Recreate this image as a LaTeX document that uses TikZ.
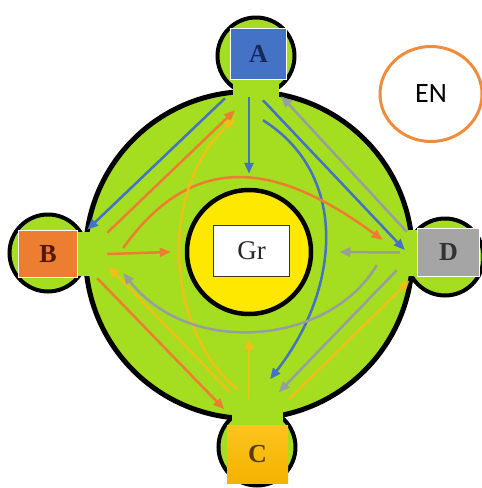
\documentclass[tikz,border=0pt]{standalone}
\usepackage{fontspec}
\setmainfont{Liberation Serif}
\newfontfamily\calib{Carlito}
\usetikzlibrary{arrows.meta, shapes.geometric}

\definecolor{lime1}{RGB}{165,222,32}
\definecolor{sun}{RGB}{255,232,0}
\definecolor{colA}{RGB}{68,114,196}
\definecolor{colB}{RGB}{237,125,49}
\definecolor{colC}{RGB}{250,188,20}
\definecolor{colD}{RGB}{165,165,165}
\definecolor{lineD}{RGB}{150,158,160}
\definecolor{enring}{RGB}{240,140,60}

\begin{document}
\begin{tikzpicture}[x=1pt, y=-1pt,
  port/.style={
    circle, draw=black, line width=4pt,
    fill=lime1, minimum size=77pt, inner sep=0pt
  },
  ring/.style={
    circle, draw=black, line width=5pt,
    fill=lime1, minimum size=327pt, inner sep=0pt
  },
  core/.style={
    circle, draw=black, line width=4.5pt,
    fill=sun, minimum size=124pt, inner sep=0pt
  },
  box/.style={
    draw=white, line width=1.5pt, inner sep=0pt,
    font=\fontsize{26}{26}\selectfont\bfseries
  },
  arr/.style={-{Triangle[length=11pt, width=9pt]}, line width=2.5pt},
  arrA/.style={arr, draw=colA},
  arrB/.style={arr, draw=colB},
  arrC/.style={arr, draw=colC, opacity=0.85},
  arrD/.style={arr, draw=lineD}
]
  \useasboundingbox (0,0) rectangle (482,488);

  % outer ports behind the boxes
  \node[port] (pA) at (256,56) {};
  \node[port] (pB) at (48,253) {};
  \node[port] (pD) at (445,257) {};
  \node[port] (pC) at (257,447) {};

  \node[ring] (ring) at (249,255) {};

  % necks
  \fill[lime1] (233,76) rectangle (279,100);
  \fill[lime1] (76,232) rectangle (100,276);
  \fill[lime1] (398,230) rectangle (420,276);
  \fill[lime1] (232,408) rectangle (283,428);

  \node[box, fill=colA, text={rgb,255:red,25;green,40;blue,90},
    minimum width=56pt, minimum height=51pt] (A) at (258.5,54) {A};
  \node[box, fill=colB, text={rgb,255:red,80;green,25;blue,10},
    minimum width=59pt, minimum height=47pt] (B) at (48,254) {B};
  \node[box, draw=none, top color={rgb,255:red,252;green,196;blue,30},
    bottom color={rgb,255:red,244;green,178;blue,0},
    text={rgb,255:red,90;green,60;blue,10},
    minimum width=61pt, minimum height=58pt] (C) at (257.5,454) {C};
  \node[box, fill=colD, text={rgb,255:red,50;green,50;blue,50},
    minimum width=62pt, minimum height=48pt] (D) at (448.5,252.5) {D};

  \node[core] (core) at (249,252) {};
  \node[draw={rgb,255:red,60;green,50;blue,40}, line width=1.5pt, fill=white,
    minimum width=76pt, minimum height=51pt, inner sep=0pt,
    text={rgb,255:red,40;green,40;blue,40},
    font=\fontsize{27}{27}\selectfont] (Gr) at (251.5,251) {Gr};

  \node[ellipse, draw=enring, line width=3pt, minimum width=102pt,
    minimum height=95pt, inner sep=0pt,
    font=\calib\fontsize{28}{28}\selectfont] (EN) at (431,94) {EN};

  % from A
  \draw[arrA] ([xshift=-33.5pt,yshift=-18pt]A.south) -- ([xshift=9pt]B.north east);
  \draw[arrA] ([xshift=-9.5pt,yshift=-17pt]A.south) -- ([yshift=14pt]core.north);
  \draw[arrA] ([xshift=4.5pt,yshift=-20pt]A.south) -- ([xshift=-12pt,yshift=2.5pt]D.west);
  \draw[arrA] ([xshift=4.5pt,yshift=-40pt]A.south)
    .. controls (350,175) and (340,290) .. ([xshift=12.5pt,yshift=45pt]C.north);

  % from B
  \draw[arrB] ([xshift=29pt,yshift=-3pt]B.north east) -- ([xshift=-23.5pt,yshift=-30pt]A.south);
  \draw[arrB] ([xshift=29pt]B.east) -- ([xshift=-14pt]core.west);
  \draw[arrB] ([xshift=45pt,yshift=6pt]B.east)
    .. controls (200,140) and (290,172) .. ([xshift=-34pt,yshift=12.5pt]D.west);
  \draw[arrB] ([xshift=19pt]B.south east) -- ([xshift=-2pt,yshift=15pt]C.north west);

  % from C
  \draw[arrC] ([xshift=-20pt,yshift=35pt]C.north)
    .. controls (165,330) and (158,190) .. ([xshift=-23.5pt,yshift=-38pt]A.south);
  \draw[arrC] ([xshift=-27.5pt,yshift=32pt]C.north) -- ([xshift=30pt,yshift=12pt]B.south east);
  \draw[arrC] ([xshift=-8.5pt,yshift=25pt]C.north) -- ([yshift=-22pt]core.south);
  \draw[arrC] ([yshift=25pt]C.north east) -- ([xshift=-7pt,yshift=-3pt]D.south west);

  % from D
  \draw[arrD] ([xshift=-10pt,yshift=-4pt]D.north west) -- ([xshift=-6pt,yshift=-16pt]A.south east);
  \draw[arrD] ([xshift=-17pt]D.west) -- ([xshift=26pt]core.east);
  \draw[arrD] ([xshift=-40pt,yshift=-12.5pt]D.west)
    .. controls (330,345) and (190,358) .. ([xshift=45pt,yshift=-19pt]B.east);
  \draw[arrD] ([xshift=-20pt,yshift=7pt]D.south west) -- ([xshift=-10pt,yshift=32pt]C.north east);

\end{tikzpicture}
\end{document}
